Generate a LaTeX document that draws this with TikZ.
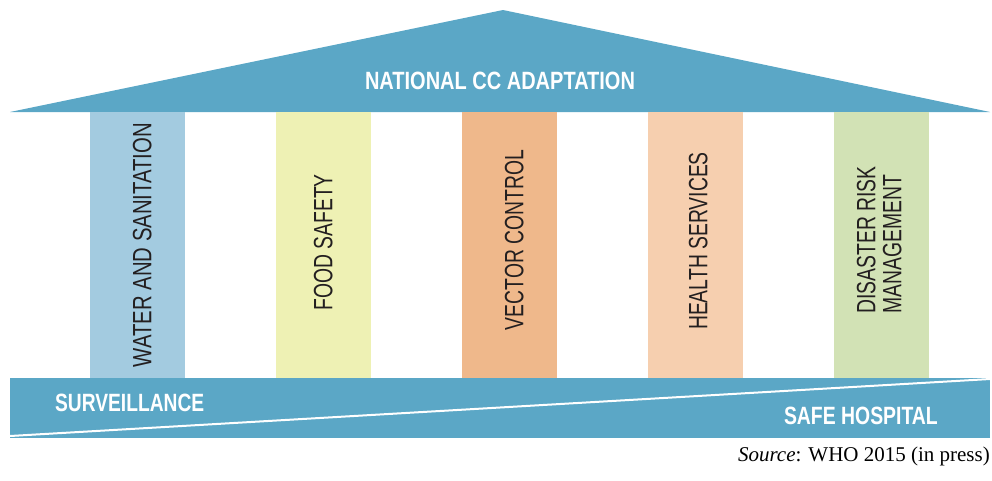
\documentclass[tikz,border=0pt]{standalone}
\usepackage{fontspec}
\setmainfont{Liberation Serif}
\newfontfamily\condfont[FakeStretch=0.73]{Liberation Sans}
\newfontfamily\headfont[FakeStretch=0.8]{Liberation Sans}
\usetikzlibrary{positioning}
\definecolor{roofblue}{HTML}{5BA7C6}
\definecolor{waterc}{HTML}{A3CBE0}
\definecolor{foodc}{HTML}{EEF1B4}
\definecolor{vectorc}{HTML}{EFB88B}
\definecolor{healthc}{HTML}{F6CFAF}
\definecolor{disasterc}{HTML}{D2E2B5}
\definecolor{ink}{HTML}{231F20}
\tikzset{pillar/.style={inner sep=0pt, outer sep=0pt, minimum width=94.5pt, minimum height=266pt},
  ptext/.style={rotate=90, inner sep=0pt, text=ink, font=\condfont\fontsize{26.5}{26}\selectfont},
  head/.style={inner sep=0pt, text=white, font=\headfont\bfseries\fontsize{25}{25}\selectfont}}

\begin{document}
\begin{tikzpicture}[x=1pt, y=-1pt, node distance=91.5pt]
  \useasboundingbox (0,0) rectangle (992,480);
  % roof
  \coordinate (rl) at (10,112);
  \coordinate (rt) at (503,10);
  \coordinate (rr) at (990,112);
  \fill[roofblue] (rl) -- (rt) -- (rr) -- cycle;
  \node[head, anchor=base] (nat) at (500,89) {NATIONAL CC ADAPTATION};
  % pillars
  \node[pillar, fill=waterc] (p1) at (137.25,245) {};
  \node[pillar, fill=foodc, right=of p1] (p2) {};
  \node[pillar, fill=vectorc, right=of p2] (p3) {};
  \node[pillar, fill=healthc, right=of p3] (p4) {};
  \node[pillar, fill=disasterc, right=of p4] (p5) {};
  \node[ptext, xscale=1.05] (t1) at ([xshift=5pt]p1.center) {WATER AND SANITATION};
  \node[ptext] (t2) at ([yshift=2.5pt]p2.center) {FOOD SAFETY};
  \node[ptext] (t3) at ([xshift=5pt, yshift=5pt]p3.center) {VECTOR CONTROL};
  \node[ptext] (t4) at ([xshift=3pt, yshift=4pt]p4.center) {HEALTH SERVICES};
  \node[ptext, align=left] (t5) at ([xshift=-2pt, yshift=5pt]p5.center) {DISASTER RISK\\MANAGEMENT};
  % base
  \coordinate (bl) at (10,378);
  \coordinate (br) at (990,438);
  \fill[roofblue] (bl) rectangle (br);
  \draw[white, line width=2pt] (10,436) -- (990,379);
  \node[head, xscale=0.96, anchor=base west] (surv) at (55,411) {SURVEILLANCE};
  \node[head, xscale=0.97, anchor=base east] (safe) at (938,424) {SAFE HOSPITAL};
  % source
  \node[inner sep=0pt, anchor=base east, font=\fontsize{21}{22}\selectfont] (src) at (990,461) {\textit{Source}: WHO 2015 (in press)};
\end{tikzpicture}
\end{document}
